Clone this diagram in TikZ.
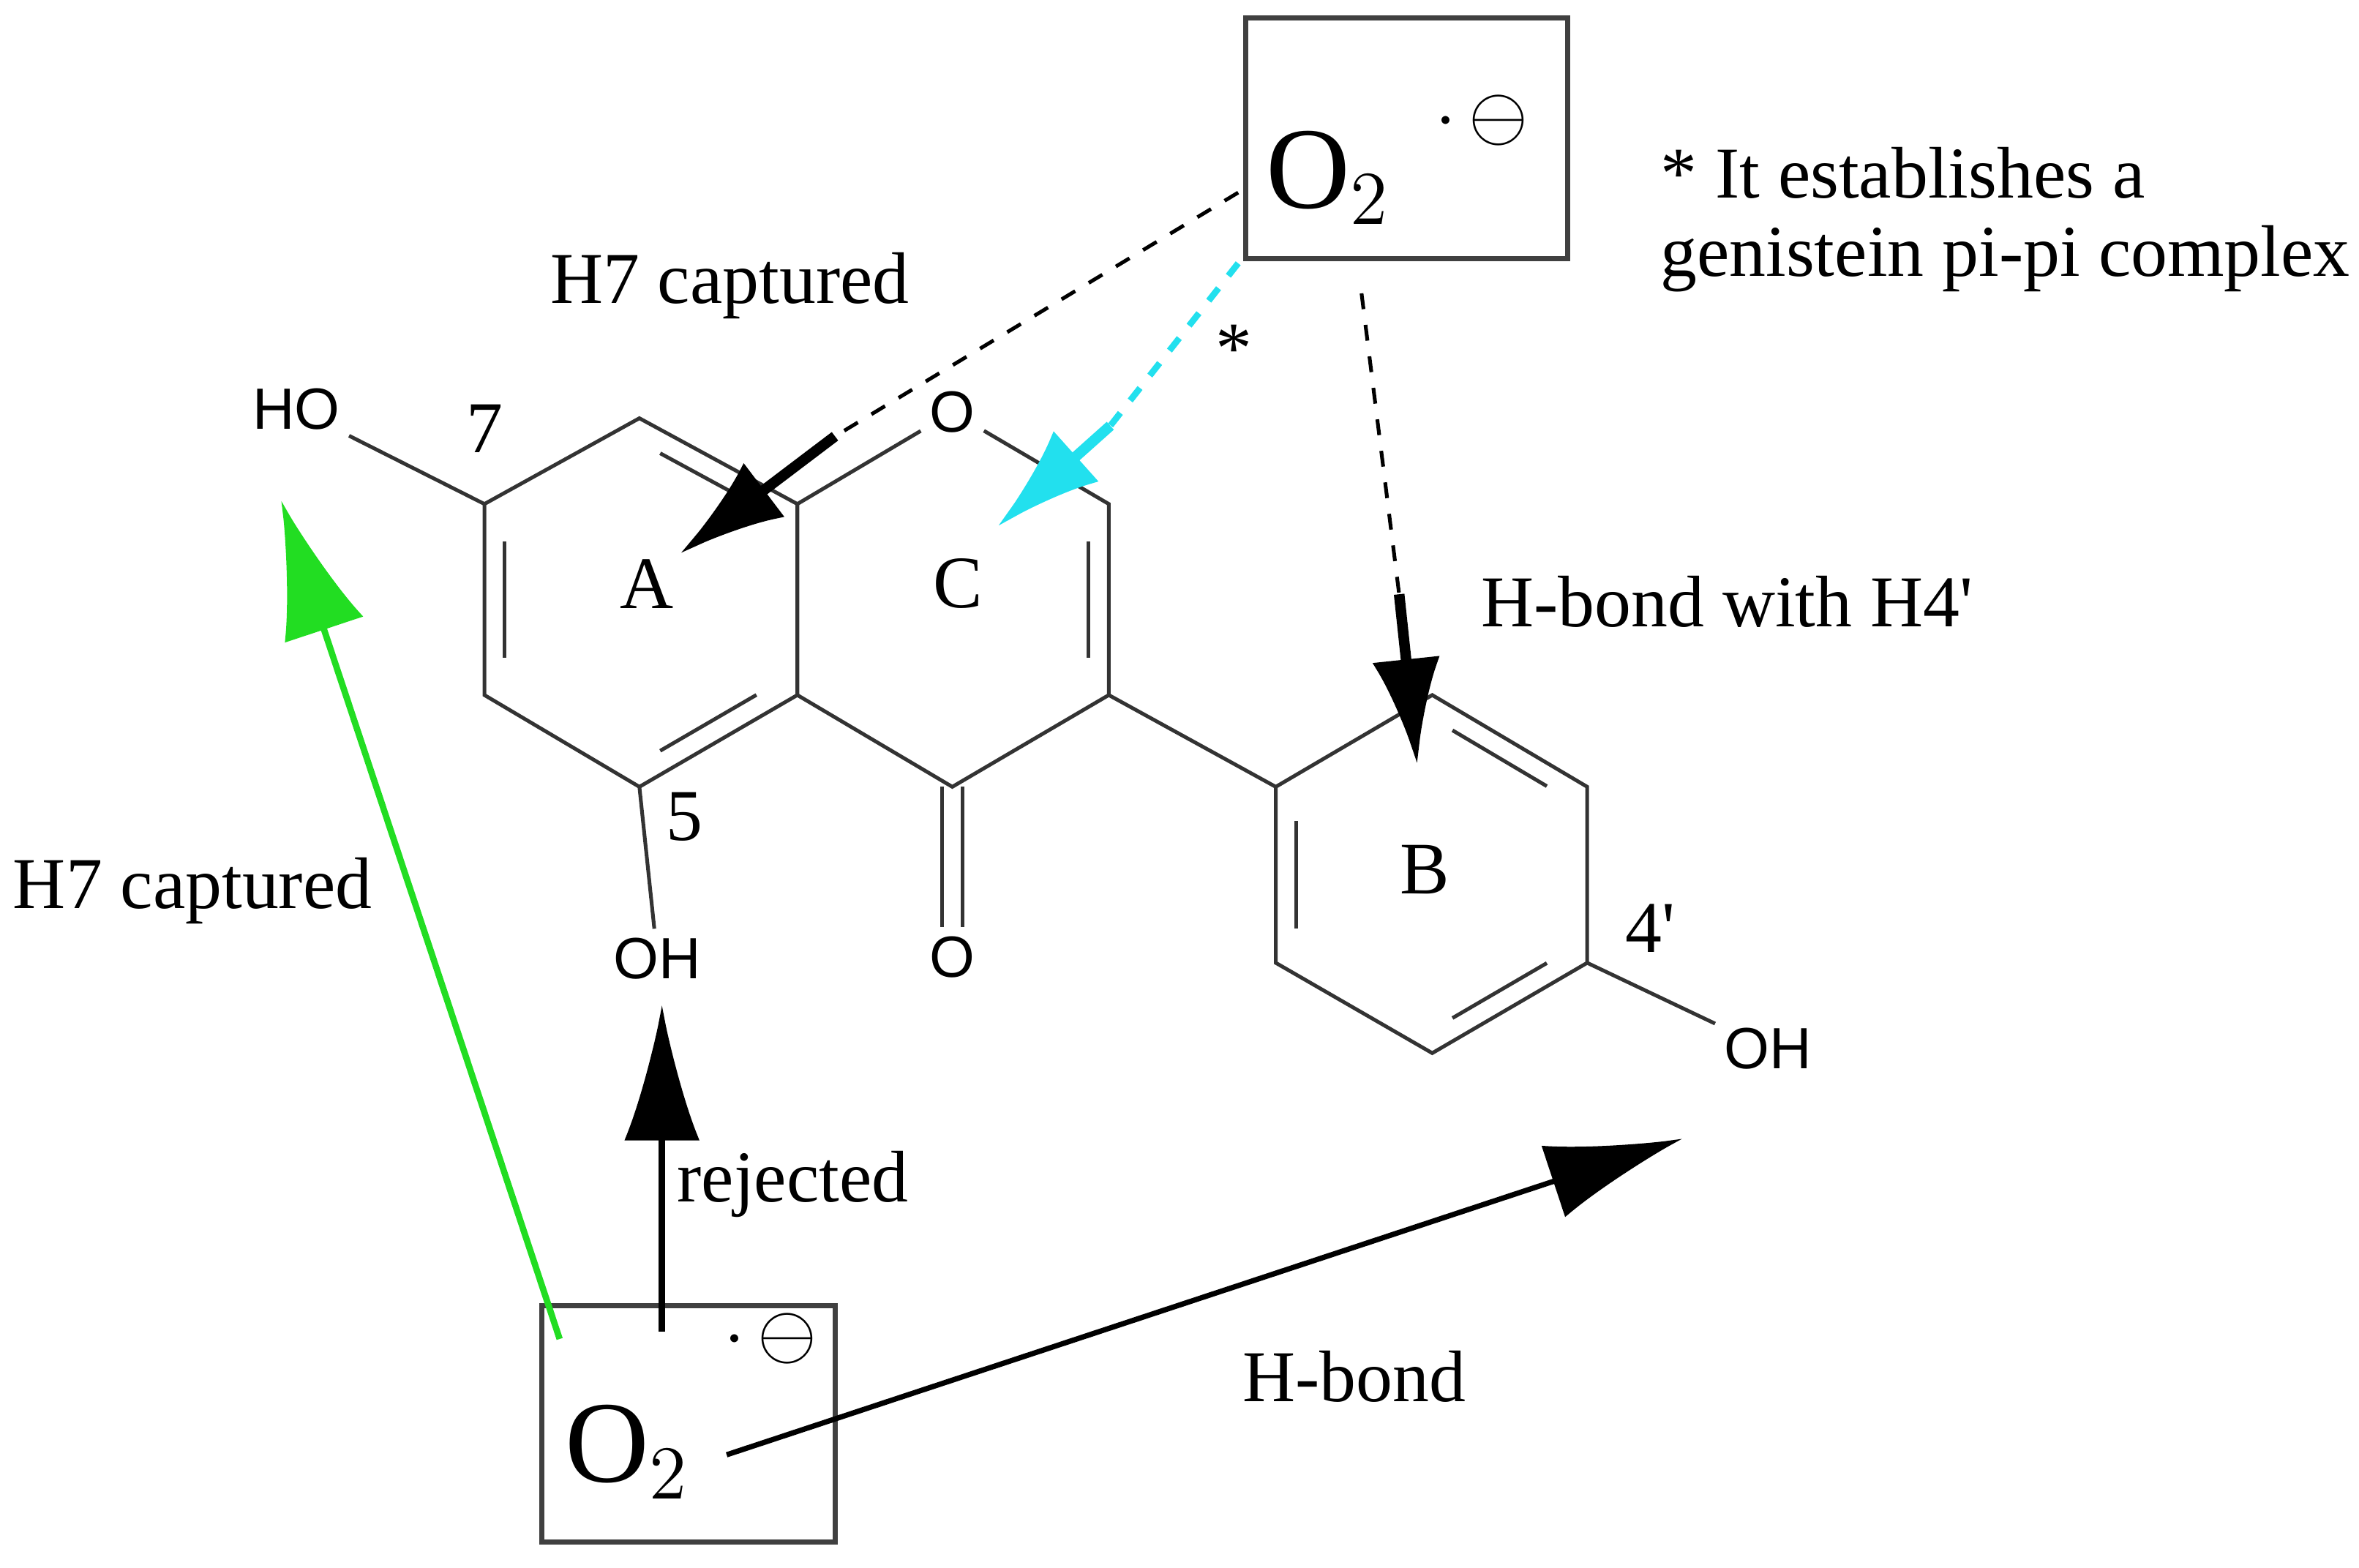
\documentclass[tikz,border=0pt]{standalone}
\usepackage{fontspec}
\setmainfont{Liberation Serif}
\newfontfamily\sansf{Liberation Sans}
\usetikzlibrary{calc,arrows.meta}
\definecolor{mycyan}{HTML}{22E0EE}
\definecolor{mygreen}{HTML}{22DD22}
\begin{document}
\begin{tikzpicture}[x={(0.01cm,0)},y={(0,-0.01cm)},
  bond/.style={line width=0.7pt,draw=black!80},
  atom/.style={font=\sansf\fontsize{11}{12}\selectfont,inner sep=1.5pt},
  lbl/.style={font=\fontsize{13.8}{16}\selectfont,inner sep=0pt},
  box/.style={draw=black!75,line width=1pt},
  bigarrow/.style={line width=2pt,-{Latex[length=7mm,width=4.5mm]}},
  thinhead/.style={line width=0.8pt,-{Latex[length=7mm,width=4mm]}}]
\newcommand\mydbl[3]{\draw[bond] ($($(#1)!0.15!(#2)$)!0.13!(#3)$) -- ($($(#1)!0.85!(#2)$)!0.13!(#3)$);}
\useasboundingbox (0,0) rectangle (1568,1042);
% atoms
\coordinate (c7) at (322,335); \coordinate (c8) at (425,278); \coordinate (c8a) at (530,335);
\coordinate (c4a) at (530,462); \coordinate (c5) at (425,523); \coordinate (c6) at (322,462);
\coordinate (c2) at (737,335); \coordinate (c3) at (737,462); \coordinate (c4) at (633,523);
\coordinate (b1) at (848,523); \coordinate (b2) at (848,640); \coordinate (b3) at (952,700);
\coordinate (b4) at (1055,640); \coordinate (b5) at (1055,523); \coordinate (b6) at (952,462);
\coordinate (ctA) at (426,400); \coordinate (ctC) at (633,400); \coordinate (ctB) at (952,581);
\node[atom] (o1) at (633,274) {O};
\node[atom] (o4) at (633,636) {O};
\node[atom] (ho7) at (197,272) {HO};
\node[atom] (oh5) at (437,637) {OH};
\node[atom] (oh4) at (1175,697) {OH};
% bonds
\draw[bond] (ho7) -- (c7) -- (c8) -- (c8a) -- (c4a) -- (c5) -- (c6) -- (c7);
\draw[bond] (c8a) -- (o1) -- (c2) -- (c3) -- (c4) -- (c4a);
\draw[bond] (c5) -- (oh5);
\draw[bond] (c3) -- (b1) -- (b2) -- (b3) -- (b4) -- (b5) -- (b6) -- (b1);
\draw[bond] (b4) -- (oh4);
\draw[bond] ([xshift=-0.07cm]c4) -- ([xshift=-0.07cm]o4.north);
\draw[bond] ([xshift=0.07cm]c4) -- ([xshift=0.07cm]o4.north);
\mydbl{c7}{c6}{ctA} \mydbl{c8}{c8a}{ctA} \mydbl{c4a}{c5}{ctA}
\mydbl{c2}{c3}{ctC}
\mydbl{b1}{b2}{ctB} \mydbl{b3}{b4}{ctB} \mydbl{b5}{b6}{ctB}
% labels
\node[lbl] (l7) at (322,285) {7};
\node[lbl] (l5) at (455,543) {5};
\node[lbl] (l4p) at (1097,617) {4\textquotesingle};
\node[lbl,font=\fontsize{14}{16}\selectfont] (rA) at (430,388) {A};
\node[lbl,font=\fontsize{14}{16}\selectfont] (rC) at (637,388) {C};
\node[lbl,font=\fontsize{14}{16}\selectfont] (rB) at (947,578) {B};
% boxes
\draw[box] (828,12) rectangle (1042,172);
\node[font=\fontsize{22}{24}\selectfont,inner sep=0pt] (o2a) at (883,118) {O$_2$};
\node[font=\fontsize{14}{16}\selectfont,inner sep=0pt] (ra) at (985,80) {$\cdot\,\ominus$};
\draw[box] (360,868) rectangle (555,1025);
\node[font=\fontsize{22}{24}\selectfont,inner sep=0pt] (o2b) at (417,965) {O$_2$};
\node[font=\fontsize{14}{16}\selectfont,inner sep=0pt] (rb) at (512,890) {$\cdot\,\ominus$};
% texts
\node[lbl,anchor=west] (t1) at (1103,115) {* It establishes a};
\node[lbl,anchor=west] (t2) at (1103,172) {genistein pi-pi complex};
\node[lbl] (t3) at (485,190) {H7 captured};
\node[lbl] (t4) at (820,232) {*};
\node[lbl] (t5) at (1148,400) {H-bond with H4\textquotesingle};
\node[lbl] (t6) at (128,592) {H7 captured};
\node[lbl] (t7) at (527,787) {rejected};
\node[lbl] (t8) at (900,915) {H-bond};
% arrows
\coordinate (s1) at (823,128); \coordinate (m1) at (555,290); \coordinate (e1) at (452,368);
\draw[dashed,line width=0.7pt] (s1) -- (m1);
\draw[bigarrow] (m1) -- (e1);
\coordinate (s2) at (823,175); \coordinate (m2) at (738,283); \coordinate (e2) at (663,350);
\draw[dashed,mycyan,line width=1.2pt] (s2) -- (m2);
\draw[bigarrow,mycyan] (m2) -- (e2);
\coordinate (s3) at (905,195); \coordinate (m3) at (930,395); \coordinate (e3) at (942,508);
\draw[dashed,line width=0.7pt] (s3) -- (m3);
\draw[bigarrow] (m3) -- (e3);
\coordinate (g1) at (372,890); \coordinate (g2) at (187,333);
\draw[mygreen,line width=1.2pt,-{Latex[length=9mm,width=5.5mm]}] (g1) -- (g2);
\coordinate (r1) at (440,885); \coordinate (r2) at (440,668);
\draw[line width=1.2pt,-{Latex[length=9mm,width=5mm]}] (r1) -- (r2);
\coordinate (h1) at (483,967); \coordinate (h2) at (1118,757);
\draw[line width=1pt,-{Latex[length=9mm,width=5mm]}] (h1) -- (h2);
\end{tikzpicture}
\end{document}
